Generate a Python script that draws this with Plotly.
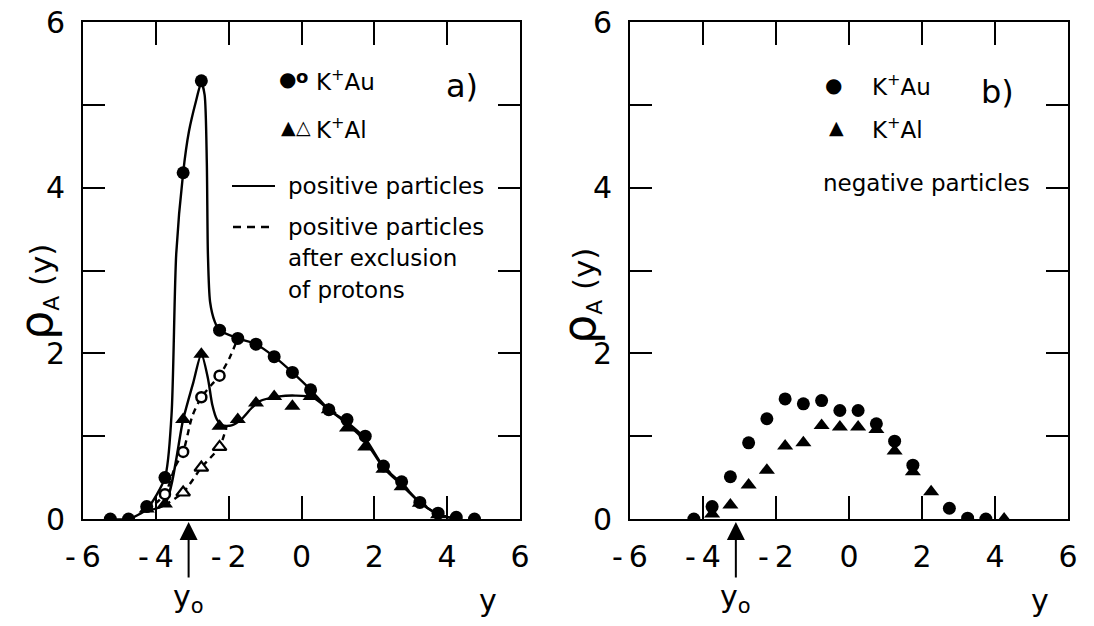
import plotly.graph_objects as go

W, H = 1094, 626

# ---------------- Panel a: positive particles ----------------
au_x = [-5.25, -4.75, -4.25, -3.75, -3.25, -2.75, -2.25, -1.75, -1.25, -0.75, -0.25,
        0.25, 0.75, 1.25, 1.75, 2.25, 2.75, 3.25, 3.75, 4.25, 4.75]
au_y = [0.0, 0.0, 0.15, 0.5, 4.18, 5.29, 2.28, 2.18, 2.11, 1.96, 1.77,
        1.56, 1.32, 1.2, 1.0, 0.64, 0.45, 0.2, 0.07, 0.02, 0.0]

al_x = [-4.25, -3.75, -3.25, -2.75, -2.25, -1.75, -1.25, -0.75, -0.25, 0.25, 0.75,
        1.25, 1.75, 2.25, 2.75, 3.25, 3.75]
al_y = [0.12, 0.18, 1.2, 1.99, 1.12, 1.2, 1.4, 1.48, 1.36, 1.48, 1.32,
        1.1, 0.87, 0.6, 0.39, 0.19, 0.05]

au_np_x = [-3.75, -3.25, -2.75, -2.25]   # open circles (protons excluded)
au_np_y = [0.3, 0.81, 1.47, 1.73]
al_np_x = [-3.25, -2.75, -2.25]          # open triangles (protons excluded)
al_np_y = [0.32, 0.62, 0.87]

# curves
au_curve_x = [-5.25, -4.75, -4.25, -3.75, -3.57, -3.44, -3.25, -3.09, -2.9, -2.75, -2.66,
              -2.6, -2.57, -2.51, -2.38, -2.25, -1.75, -1.25, -0.75, -0.25, 0.25, 0.75,
              1.25, 1.75, 2.25, 2.75, 3.25, 3.75, 4.25]
au_curve_y = [0.0, 0.0, 0.12, 0.5, 1.25, 3.2, 4.18, 4.68, 5.04, 5.27, 5.12,
              4.3, 3.2, 2.62, 2.38, 2.28, 2.18, 2.11, 1.96, 1.77, 1.56, 1.32,
              1.17, 0.97, 0.63, 0.43, 0.2, 0.06, 0.0]
al_curve_x = [-4.25, -3.75, -3.25, -2.97, -2.75, -2.57, -2.45, -2.32, -2.17, -1.92, -1.66,
              -1.37, -1.16, -0.61, -0.17, 0.3, 0.75, 1.25, 1.75, 2.25, 2.75, 3.25, 3.75, 4.25]
al_curve_y = [0.1, 0.18, 1.2, 1.65, 1.99, 1.7, 1.38, 1.2, 1.13, 1.13, 1.2,
              1.34, 1.42, 1.48, 1.49, 1.47, 1.32, 1.15, 0.94, 0.62, 0.41, 0.2, 0.06, 0.0]
au_dash_x = [-4.25, -3.75, -3.47, -3.25, -3.0, -2.75, -2.47, -2.25, -1.97, -1.75]
au_dash_y = [0.1, 0.3, 0.63, 0.81, 1.24, 1.47, 1.62, 1.73, 1.95, 2.18]
al_dash_x = [-3.75, -3.25, -2.75, -2.25, -2.05]
al_dash_y = [0.17, 0.32, 0.62, 0.87, 1.13]

# ---------------- Panel b: negative particles ----------------
neg_au_x = [-4.25, -3.75, -3.25, -2.75, -2.25, -1.75, -1.25, -0.75, -0.25, 0.25, 0.75,
            1.25, 1.75, 2.75, 3.25, 3.75]
neg_au_y = [0.0, 0.15, 0.51, 0.92, 1.21, 1.45, 1.39, 1.43, 1.31, 1.31, 1.15,
            0.94, 0.65, 0.13, 0.01, 0.0]
neg_al_x = [-3.75, -3.25, -2.75, -2.25, -1.75, -1.25, -0.75, -0.25, 0.25, 0.75,
            1.25, 1.75, 2.25, 4.25]
neg_al_y = [0.06, 0.17, 0.41, 0.59, 0.88, 0.92, 1.13, 1.11, 1.11, 1.08,
            0.82, 0.57, 0.33, 0.0]

y0 = -3.1
x_ticks = [-6, -4, -2, 0, 2, 4, 6]
x_ticktext = ["-\u20096", "-\u20094", "-\u20092", "0", "2", "4", "6"]
y_ticks = [0, 2, 4, 6]
y_minor = [1, 3, 5]

FONT = "DejaVu Sans"
BLK = "black"

fig = go.Figure()

def line(x, y, ax, dash="solid", w=2.4):
    fig.add_trace(go.Scatter(x=x, y=y, mode="lines", xaxis=ax[0], yaxis=ax[1],
                             line=dict(color=BLK, width=w, dash=dash, shape="spline", smoothing=0.7),
                             hoverinfo="skip", showlegend=False))

def pts(x, y, ax, symbol, size, lw=0):
    fig.add_trace(go.Scatter(x=x, y=y, mode="markers", xaxis=ax[0], yaxis=ax[1],
                             marker=dict(symbol=symbol, size=size, color=BLK,
                                         line=dict(color=BLK, width=lw)),
                             showlegend=False))

A = ("x", "y")
B = ("x2", "y2")
line(au_curve_x, au_curve_y, A)
line(al_curve_x, al_curve_y, A)
line(au_dash_x, au_dash_y, A, dash="6px,5px")
line(al_dash_x, al_dash_y, A, dash="6px,5px")
pts(au_x, au_y, A, "circle", 13)
pts(al_x, al_y, A, "triangle-up", 14)
fig.add_trace(go.Scatter(x=au_np_x, y=au_np_y, mode="markers", xaxis="x", yaxis="y",
                         marker=dict(symbol="circle", size=10, color="white",
                                     line=dict(color=BLK, width=2.5)), showlegend=False))
fig.add_trace(go.Scatter(x=al_np_x, y=al_np_y, mode="markers", xaxis="x", yaxis="y",
                         marker=dict(symbol="triangle-up", size=12, color="white",
                                     line=dict(color=BLK, width=2.2)), showlegend=False))
pts(neg_au_x, neg_au_y, B, "circle", 13)
pts(neg_al_x, neg_al_y, B, "triangle-up", 14)

TOP, BOT = 22, 519

def xax(left, right, anchor):
    return dict(domain=[left / W, right / W], range=[-6, 6], tickvals=x_ticks, ticktext=x_ticktext,
                ticks="inside", ticklen=23, tickwidth=2, tickcolor=BLK, showline=True,
                linecolor=BLK, linewidth=2, mirror="ticks", showgrid=False, zeroline=False,
                anchor=anchor, automargin=False,
                tickfont=dict(family=FONT, size=30, color=BLK), ticklabelstandoff=10)

def yax(anchor):
    return dict(domain=[(H - BOT) / H, (H - TOP) / H], range=[0, 6], tickvals=y_ticks,
                ticks="inside", ticklen=22, tickwidth=2, tickcolor=BLK,
                minor=dict(tickvals=y_minor, ticks="inside", ticklen=22, tickwidth=2, tickcolor=BLK),
                showline=True, linecolor=BLK, linewidth=2, mirror="ticks", showgrid=False,
                zeroline=False, anchor=anchor, automargin=False,
                tickfont=dict(family=FONT, size=30, color=BLK), ticklabelstandoff=10)

ann = []

def txt(t, x, y, size=23, xanchor="left", angle=0):
    ann.append(dict(text=t, x=x / W, y=1 - y / H, xref="paper", yref="paper", showarrow=False,
                    xanchor=xanchor, yanchor="middle", textangle=angle,
                    font=dict(family=FONT, size=size, color=BLK)))

# panel a legend
txt("●", 287, 79, 20, "center")
txt("<b>o</b>", 302, 77, 18, "center")
txt("K<sup>+</sup>Au", 314, 80, 23)
txt("a)", 462, 86, 32, "center")
txt("▲", 288, 127, 19, "center")
txt("△", 303, 127, 19, "center")
txt("K<sup>+</sup>Al", 314, 128, 23)
txt("positive particles", 286, 186, 23)
txt("positive particles", 286, 227, 23)
txt("after exclusion", 286, 258, 23)
txt("of protons", 286, 290, 23)
# panel b legend
txt("●", 833, 85, 20, "center")
txt("K<sup>+</sup>Au", 870, 85, 23)
txt("b)", 997, 92, 32, "center")
txt("▲", 836, 127, 19, "center")
txt("K<sup>+</sup>Al", 870, 128, 23)
txt("negative particles", 821, 183, 23)
# axis titles
txt("<span style='font-size:46px'>ρ</span><sub>A</sub> (y)", 36, 292, 31, "center", -90)
txt("<span style='font-size:46px'>ρ</span><sub>A</sub> (y)", 580, 296, 31, "center", -90)
txt("y", 488, 600, 30, "center")
txt("y", 1040, 600, 30, "center")

for xr, yr in (("x", "y"), ("x2", "y2")):
    # arrow marking the beam rapidity y0
    ann.append(dict(x=y0, y=0, xref=xr, yref=yr, text="", showarrow=True,
                    ax=0, ay=60, axref="pixel", ayref="pixel", arrowhead=2, arrowsize=1.8,
                    arrowwidth=2, arrowcolor=BLK, standoff=3))
    ann.append(dict(x=y0, y=1 - 598 / H, xref=xr, yref="paper", text="y<sub>o</sub>",
                    showarrow=False, xanchor="center", yanchor="middle",
                    font=dict(family=FONT, size=30, color=BLK)))

shapes = [
    dict(type="line", xref="paper", yref="paper", x0=232 / W, x1=275 / W,
         y0=1 - 186 / H, y1=1 - 186 / H, line=dict(color=BLK, width=2)),
    dict(type="line", xref="paper", yref="paper", x0=233 / W, x1=274 / W,
         y0=1 - 227 / H, y1=1 - 227 / H, line=dict(color=BLK, width=2.5, dash="8px,6px")),
]

fig.update_layout(
    width=W, height=H, margin=dict(l=0, r=0, t=0, b=0),
    paper_bgcolor="white", plot_bgcolor="white", showlegend=False,
    xaxis=xax(83, 520, "y"), yaxis=yax("x"),
    xaxis2=xax(630, 1068, "y2"), yaxis2=yax("x2"),
    annotations=ann, shapes=shapes,
)

fig.write_html("out.html")
